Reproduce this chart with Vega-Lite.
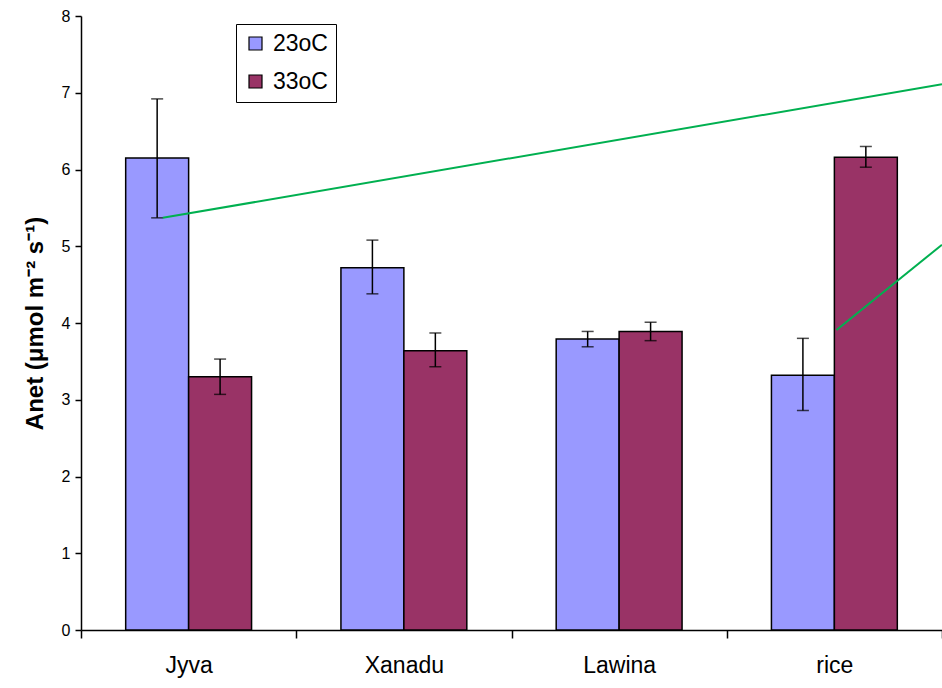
{
  "$schema": "https://vega.github.io/schema/vega-lite/v6.json",
  "autosize": {"type": "none"},
  "width": 861,
  "height": 614,
  "padding": {"left": 81, "top": 16, "right": 0, "bottom": 58},
  "background": "white",
  "config": {
    "view": {"stroke": null},
    "font": "Liberation Sans",
    "axis": {"labelFont": "Liberation Sans", "titleFont": "Liberation Sans", "labelColor": "black", "titleColor": "black", "domainColor": "black", "tickColor": "black", "grid": false, "domainWidth": 1.5, "tickWidth": 1.5},
    "axisX": {"labelFontSize": 23, "labelPadding": 16, "tickSize": 8, "labelAngle": 0, "tickBand": "extent"},
    "axisY": {"labelFontSize": 16, "tickSize": 6, "labelPadding": 5, "titleFontSize": 24, "titleFontWeight": "bold", "titlePadding": 14, "labelOverlap": false, "format": "d"},
    "legend": {"labelFontSize": 23, "labelFont": "Liberation Sans", "labelColor": "black"}
  },
  "datasets": {
    "bars": [
      {"cultivar": "Jyva", "temp": "23oC", "anet": 6.15, "lo": 5.37, "hi": 6.92},
      {"cultivar": "Jyva", "temp": "33oC", "anet": 3.30, "lo": 3.07, "hi": 3.53},
      {"cultivar": "Xanadu", "temp": "23oC", "anet": 4.72, "lo": 4.38, "hi": 5.08},
      {"cultivar": "Xanadu", "temp": "33oC", "anet": 3.64, "lo": 3.43, "hi": 3.87},
      {"cultivar": "Lawina", "temp": "23oC", "anet": 3.79, "lo": 3.69, "hi": 3.89},
      {"cultivar": "Lawina", "temp": "33oC", "anet": 3.89, "lo": 3.77, "hi": 4.01},
      {"cultivar": "rice", "temp": "23oC", "anet": 3.32, "lo": 2.86, "hi": 3.80},
      {"cultivar": "rice", "temp": "33oC", "anet": 6.16, "lo": 6.03, "hi": 6.30}
    ],
    "callouts": [
      {"line": "a", "pos": 0.38, "value": 5.37},
      {"line": "a", "pos": 4.0, "value": 7.11},
      {"line": "b", "pos": 3.51, "value": 3.91},
      {"line": "b", "pos": 4.0, "value": 5.02}
    ]
  },
  "layer": [
    {
      "data": {"name": "bars"},
      "encoding": {
        "x": {
          "field": "cultivar", "type": "nominal", "sort": ["Jyva", "Xanadu", "Lawina", "rice"],
          "scale": {"paddingInner": 0, "paddingOuter": 0},
          "axis": {"title": null}
        },
        "xOffset": {"field": "temp", "type": "nominal", "scale": {"paddingInner": 0, "paddingOuter": 0.71}}
      },
      "layer": [
        {
          "mark": {"type": "bar", "stroke": "black", "strokeWidth": 1.5},
          "encoding": {
            "y": {
              "field": "anet", "type": "quantitative",
              "scale": {"domain": [0, 8], "nice": false},
              "axis": {"title": "Anet (μmol m⁻² s⁻¹)", "values": [0, 1, 2, 3, 4, 5, 6, 7, 8]}
            },
            "color": {
              "field": "temp", "type": "nominal",
              "scale": {"domain": ["23oC", "33oC"], "range": ["#9999FF", "#993366"]},
              "legend": {
                "title": null, "orient": "none", "legendX": 155, "legendY": 8,
                "direction": "vertical", "fillColor": "white", "strokeColor": "black", "padding": 8,
                "symbolType": "square", "symbolSize": 169, "symbolStrokeColor": "black", "symbolStrokeWidth": 1.2, "symbolOpacity": 1,
                "rowPadding": 14, "labelOffset": 6
              }
            }
          }
        },
        {
          "mark": {"type": "rule", "color": "black", "strokeWidth": 1.5},
          "encoding": {"y": {"field": "lo", "type": "quantitative", "title": "Anet (μmol m⁻² s⁻¹)"}, "y2": {"field": "hi"}}
        },
        {
          "mark": {"type": "tick", "color": "black", "size": 12, "thickness": 1.5},
          "encoding": {"y": {"field": "lo", "type": "quantitative", "title": "Anet (μmol m⁻² s⁻¹)"}}
        },
        {
          "mark": {"type": "tick", "color": "black", "size": 12, "thickness": 1.5},
          "encoding": {"y": {"field": "hi", "type": "quantitative", "title": "Anet (μmol m⁻² s⁻¹)"}}
        }
      ]
    },
    {
      "data": {"name": "callouts"},
      "mark": {"type": "line", "color": "#00B050", "strokeWidth": 2},
      "encoding": {
        "x": {"field": "pos", "type": "quantitative", "scale": {"domain": [0, 4], "nice": false, "zero": false}, "axis": null},
        "y": {"field": "value", "type": "quantitative", "title": "Anet (μmol m⁻² s⁻¹)"},
        "detail": {"field": "line", "type": "nominal"}
      }
    }
  ],
  "resolve": {"scale": {"x": "independent"}, "axis": {"x": "independent"}}
}
